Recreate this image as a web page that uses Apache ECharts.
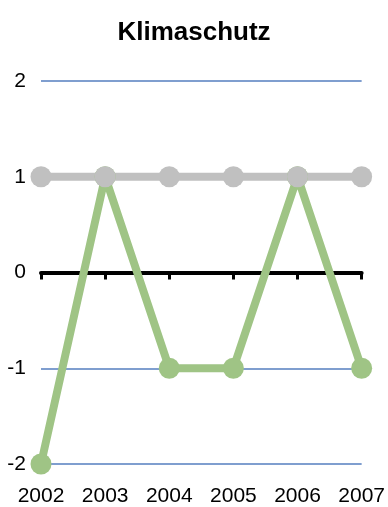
<!DOCTYPE html>
<html>
<head>
<meta charset="utf-8">
<script src="https://cdn.jsdelivr.net/npm/echarts@6/dist/echarts.min.js"></script>
<style>
html, body { margin: 0; padding: 0; background: #fff; }
#chart { width: 388px; height: 507px; }
</style>
</head>
<body>
<div id="chart"></div>
<script>
var years = ['2002', '2003', '2004', '2005', '2006', '2007'];
var greenValues = [-2, 1, -1, -1, 1, -1];
var grayValues = [1, 1, 1, 1, 1, 1];
var yTicks = [-2, -1, 0, 1, 2];

var myChart = echarts.init(document.getElementById('chart'));

var option = {
	animation : false,
	title : {
		text : 'Klimaschutz',
		left : 'center',
		top : 15,
		textStyle : {
			fontFamily : 'Liberation Sans',
			fontSize : 26,
			fontWeight : 'bold',
			color : '#000'
		}
	},
	grid : {
		left : 41,
		right : 26,
		top : 81,
		bottom : 43
	},
	xAxis : [ {
		type : 'category',
		data : years,
		boundaryGap : false,
		position : 'bottom',
		axisLine : { show : false, onZero : false },
		axisTick : { show : false },
		axisLabel : {
			margin : 22,
			fontFamily : 'Liberation Sans',
			fontSize : 21,
			color : '#000'
		}
	}, {
		type : 'category',
		data : years,
		boundaryGap : false,
		position : 'bottom',
		axisLine : {
			onZero : true,
			lineStyle : { color : '#000', width : 4 }
		},
		axisTick : {
			show : true,
			length : 7,
			lineStyle : { color : '#000', width : 3 }
		},
		axisLabel : { show : false }
	} ],
	yAxis : {
		type : 'value',
		min : yTicks[0],
		max : yTicks[yTicks.length - 1],
		interval : 1,
		axisLine : { show : false },
		axisTick : { show : false },
		axisLabel : {
			margin : 15,
			fontFamily : 'Liberation Sans',
			fontSize : 21,
			color : '#000'
		},
		splitLine : {
			show : true,
			lineStyle : { color : '#7f9ecf', width : 2 }
		}
	},
	series : [ {
		name : 'green',
		type : 'line',
		data : greenValues,
		symbol : 'circle',
		symbolSize : 21,
		lineStyle : { color : '#9fc485', width : 8 },
		itemStyle : { color : '#9fc485' }
	}, {
		name : 'gray',
		type : 'line',
		data : grayValues,
		symbol : 'circle',
		symbolSize : 21,
		lineStyle : { color : '#c0c0c0', width : 8 },
		itemStyle : { color : '#c0c0c0' }
	} ]
};

myChart.setOption(option);
</script>
</body>
</html>
